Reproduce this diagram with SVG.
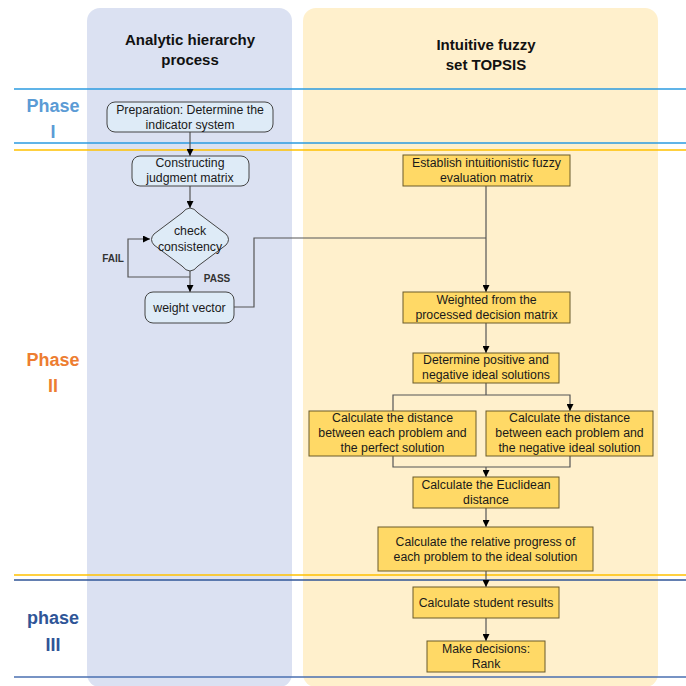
<svg xmlns="http://www.w3.org/2000/svg" width="686" height="686" viewBox="0 0 686 686">
<defs>
<marker id="ah" viewBox="0 0 10 10" refX="10" refY="5" markerWidth="7" markerHeight="7" markerUnits="userSpaceOnUse" orient="auto">
<path d="M0,0 L10,5 L0,10 z" fill="#000"/>
</marker>
<style>
.lane1{fill:#dbe1f2;}
.lane2{fill:#fff0cc;}
.title{font-family:"Liberation Sans",Arial,sans-serif;font-weight:bold;font-size:15px;fill:#111;text-anchor:middle;}
.ph{font-family:"Liberation Sans",Arial,sans-serif;font-weight:bold;font-size:18px;text-anchor:middle;}
.rb{fill:#deebf7;stroke:#444;stroke-width:1;}
.yb{fill:#ffd966;stroke:#6b5a2a;stroke-width:1;}
.t{font-family:"Liberation Sans",Arial,sans-serif;font-size:12.3px;fill:#1a1a1a;text-anchor:middle;}
.lbl{font-family:"Liberation Sans",Arial,sans-serif;font-size:10px;font-weight:bold;fill:#333;text-anchor:middle;}
.c{fill:none;stroke:#555;stroke-width:1.2;}
.ca{fill:none;stroke:#555;stroke-width:1.2;marker-end:url(#ah);}
</style>
</defs>
<rect width="686" height="686" fill="#fff"/>
<g id="lanes">
<rect class="lane1" x="87" y="8" width="205" height="679" rx="13"/>
<rect class="lane2" x="303" y="8" width="355" height="679" rx="13"/>
<text class="title" x="190" y="45">Analytic hierarchy</text>
<text class="title" x="190" y="65">process</text>
<text class="title" x="486" y="50">Intuitive fuzzy</text>
<text class="title" x="486" y="70">set TOPSIS</text>
</g>
<g id="phases">
<line x1="14" y1="89" x2="686" y2="89" stroke="#2b9be0" stroke-width="1.5"/>
<line x1="14" y1="143" x2="686" y2="143" stroke="#2b9be0" stroke-width="1.5"/>
<line x1="14" y1="150" x2="686" y2="150" stroke="#ffc000" stroke-width="1.5"/>
<line x1="14" y1="575" x2="686" y2="575" stroke="#ffc000" stroke-width="1.5"/>
<line x1="14" y1="580" x2="686" y2="580" stroke="#2f5597" stroke-width="1.5"/>
<line x1="14" y1="677" x2="686" y2="677" stroke="#4a6fb0" stroke-width="1.5"/>
<text class="ph" x="53" y="112" fill="#5b9bd5">Phase</text>
<text class="ph" x="53" y="138" fill="#5b9bd5">I</text>
<text class="ph" x="53" y="366" fill="#ed7d31">Phase</text>
<text class="ph" x="53" y="392" fill="#ed7d31">II</text>
<text class="ph" x="53" y="624" fill="#2f5597">phase</text>
<text class="ph" x="53" y="651" fill="#2f5597">III</text>
</g>
<g id="connectors">
<line class="ca" x1="190" y1="132" x2="190" y2="156"/>
<line class="ca" x1="190" y1="186" x2="190" y2="208"/>
<line class="ca" x1="190" y1="271" x2="190" y2="292"/>
<polyline class="ca" points="190,277 128,277 128,239 150,239"/>
<polyline class="c" points="234,307 254,307 254,238 486,238"/>
<line class="ca" x1="486" y1="186" x2="486" y2="292"/>
<line class="ca" x1="486" y1="323" x2="486" y2="353"/>
<line class="c" x1="486" y1="383" x2="486" y2="395"/>
<polyline class="ca" points="393,411 393,395 570,395 570,411"/>
<polyline class="c" points="393,456 393,467 570,467 570,456"/>
<line class="ca" x1="486" y1="467" x2="486" y2="477"/>
<line class="ca" x1="486" y1="508" x2="486" y2="527"/>
<line class="ca" x1="486" y1="571" x2="486" y2="587"/>
<line class="ca" x1="486" y1="618" x2="486" y2="641"/>
<text class="lbl" x="113" y="262">FAIL</text>
<text class="lbl" x="217" y="282">PASS</text>
</g>
<g id="n-prep">
<rect class="rb" x="107" y="102" width="166" height="30" rx="8"/>
<text class="t" x="190" y="114">Preparation: Determine the</text>
<text class="t" x="190" y="129">indicator system</text>
</g>
<g id="n-judgment">
<rect class="rb" x="132" y="156" width="117" height="30" rx="8"/>
<text class="t" x="190" y="167">Constructing</text>
<text class="t" x="190" y="182">judgment matrix</text>
</g>
<g id="n-check">
<path class="rb" d="M190,208 Q194,208 198,213 L226,234 Q231,239.5 226,245 L198,266 Q194,271 190,271 Q186,271 182,266 L154,245 Q149,239.5 154,234 L182,213 Q186,208 190,208 Z"/>
<text class="t" x="190" y="235">check</text>
<text class="t" x="190" y="251">consistency</text>
</g>
<g id="n-weight">
<rect class="rb" x="145" y="292" width="89" height="31" rx="8"/>
<text class="t" x="189.5" y="312">weight vector</text>
</g>
<g id="n-establish">
<rect class="yb" x="403" y="155" width="167" height="31"/>
<text class="t" x="486.5" y="167">Establish intuitionistic fuzzy</text>
<text class="t" x="486.5" y="182">evaluation matrix</text>
</g>
<g id="n-weighted">
<rect class="yb" x="403" y="292" width="167" height="31"/>
<text class="t" x="486.5" y="304">Weighted from the</text>
<text class="t" x="486.5" y="319">processed decision matrix</text>
</g>
<g id="n-determine">
<rect class="yb" x="413" y="353" width="146" height="30"/>
<text class="t" x="486" y="364">Determine positive and</text>
<text class="t" x="486" y="379">negative ideal solutions</text>
</g>
<g id="n-dist-pos">
<rect class="yb" x="309" y="411" width="167" height="45"/>
<text class="t" x="392.5" y="422">Calculate the distance</text>
<text class="t" x="392.5" y="437">between each problem and</text>
<text class="t" x="392.5" y="452">the perfect solution</text>
</g>
<g id="n-dist-neg">
<rect class="yb" x="486" y="411" width="167" height="45"/>
<text class="t" x="569.5" y="422">Calculate the distance</text>
<text class="t" x="569.5" y="437">between each problem and</text>
<text class="t" x="569.5" y="452">the negative ideal solution</text>
</g>
<g id="n-euclid">
<rect class="yb" x="413" y="477" width="146" height="31"/>
<text class="t" x="486" y="489">Calculate the Euclidean</text>
<text class="t" x="486" y="504">distance</text>
</g>
<g id="n-relative">
<rect class="yb" x="378" y="527" width="215" height="44"/>
<text class="t" x="485.5" y="546">Calculate the relative progress of</text>
<text class="t" x="485.5" y="561">each problem to the ideal solution</text>
</g>
<g id="n-student">
<rect class="yb" x="413" y="587" width="146" height="31"/>
<text class="t" x="486" y="607">Calculate student results</text>
</g>
<g id="n-rank">
<rect class="yb" x="427" y="641" width="118" height="31"/>
<text class="t" x="486" y="653">Make decisions:</text>
<text class="t" x="486" y="668">Rank</text>
</g>
</svg>
